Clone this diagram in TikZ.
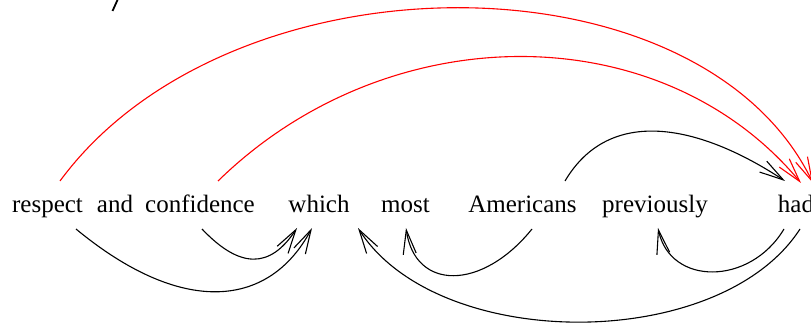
\documentclass[tikz,border=0pt]{standalone}
\usepackage{fontspec}
\setmainfont{Liberation Serif}
\usetikzlibrary{arrows.meta}
\begin{document}
\begin{tikzpicture}[x=1pt,y=-1pt,
  word/.style={inner sep=0pt,anchor=base,font=\fontsize{25}{30}\selectfont},
  arc/.style={line width=1.1pt,-{Straight Barb[length=24pt,width=13pt,line width=1.1pt]}},
  redarc/.style={arc,red}]
\useasboundingbox (0,0) rectangle (811,323);
\node[word] (respect) at (47.5,213) {respect};
\node[word] (and) at (115,213) {and};
\node[word] (confidence) at (200,213) {confidence};
\node[word] (which) at (319,213) {which};
\node[word] (most) at (405.5,213) {most};
\node[word] (americans) at (522.5,213) {Americans};
\node[word] (previously) at (655,213) {previously};
\node[word] (had) at (796,213) {had};
% stray glyph fragment at top
\draw[line width=1.8pt] (112.5,11) -- (117.5,0);
% red arcs above
\draw[redarc] ([shift={(12.5,-32)}]respect.base) .. controls +(170,-231) and +(-113,-233) .. ([shift={(17,-30)}]had.base);
\draw[redarc] ([shift={(18,-32)}]confidence.base) .. controls +(170,-166) and +(-140,-168) .. ([shift={(5,-30)}]had.base);
% black arc above
\draw[arc] ([shift={(42.5,-32)}]americans.base) .. controls +(45,-76) and +(-85,-56) .. ([shift={(-11,-32)}]had.base);
% black arcs below
\draw[arc] ([shift={(28.5,16)}]respect.base) .. controls +(104,86) and +(-44,82) .. ([shift={(-7,15)}]which.base);
\draw[arc] ([shift={(2,16)}]confidence.base) .. controls +(38,40) and +(-27,41) .. ([shift={(-22,15)}]which.base);
\draw[arc] ([shift={(9.5,16)}]americans.base) .. controls +(-50,62) and +(9,63) .. ([shift={(0.5,15)}]most.base);
\draw[arc] ([shift={(-12,16)}]had.base) .. controls +(-34,57) and +(12,58) .. ([shift={(3,15)}]previously.base);
\draw[arc] ([shift={(4,16)}]had.base) .. controls +(-80,124) and +(80,125) .. ([shift={(39,15)}]which.base);
\end{tikzpicture}
\end{document}
